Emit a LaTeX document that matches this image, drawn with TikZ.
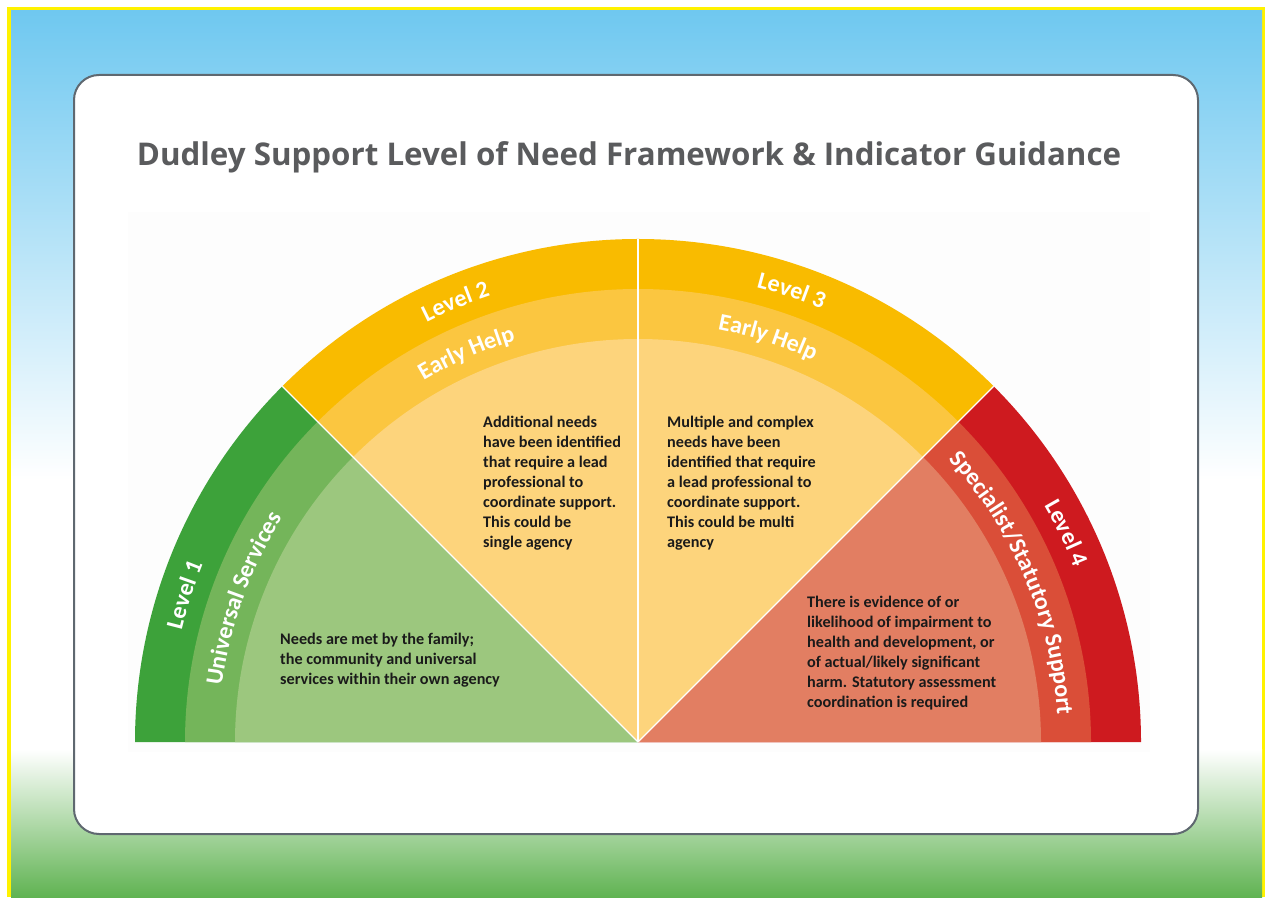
\documentclass[tikz,border=0pt]{standalone}
\usepackage{fontspec}
\setmainfont{Carlito}
\newfontfamily\titlefont{Open Sans}
\usetikzlibrary{decorations.text,calc}
\definecolor{bgblue}{HTML}{6FC8F0}
\definecolor{bggreen}{HTML}{60B352}
\definecolor{frameyellow}{HTML}{FFF200}
\definecolor{panelgray}{HTML}{5F6870}
\definecolor{titlegray}{HTML}{5A5B5D}
\definecolor{textdark}{HTML}{1A1A1A}
\definecolor{gA}{HTML}{3DA23A}
\definecolor{gB}{HTML}{74B55A}
\definecolor{gC}{HTML}{9CC77E}
\definecolor{yA}{HTML}{F9BB00}
\definecolor{yB}{HTML}{FBC640}
\definecolor{yC}{HTML}{FDD47C}
\definecolor{rA}{HTML}{CE1A1F}
\definecolor{rB}{HTML}{DA4E38}
\definecolor{rC}{HTML}{E27E62}
\newcommand\lblfont{\bfseries\fontsize{24}{28}\selectfont}
\tikzset{
  bodytext/.style={anchor=base west, inner sep=0pt, text=textdark, font=\bfseries\fontsize{16.2}{20}\selectfont},
  divider/.style={draw=white, line width=1.3pt},
  arclabel/.style={decorate, decoration={text along path, text align=center, text color=white, text={|\lblfont|#1}}},
}
\begin{document}
\begin{tikzpicture}[x=1pt,y=1pt]
\useasboundingbox (0,0) rectangle (1265,897);
\fill[white] (0,0) rectangle (1265,897);
\fill[frameyellow] (7,0) rectangle (1265,890);
\shade[top color=bgblue, bottom color=white] (11,417) rectangle (1262,886);
\fill[white] (11,147) rectangle (1262,417.5);
\shade[top color=white, bottom color=bggreen] (11,0) rectangle (1262,147.5);
\draw[draw=panelgray, line width=2pt, fill=white, rounded corners=25pt] (74,63) rectangle (1198,822);
\fill[black!0.8] (128,145) rectangle (1150,685);
\node[anchor=base, font=\titlefont\bfseries\fontsize{31.3}{38}\selectfont, text=titlegray] (title) at (629,731) {Dudley Support Level of Need Framework \& Indicator Guidance};
\coordinate (C) at (638,155);
% sectors
\foreach \a/\b/\ca/\cb/\cc in {135/180/gA/gB/gC, 45/135/yA/yB/yC, 0/45/rA/rB/rC}{
  \fill[\ca] (C) -- ($(C)+(\a:503)$) arc[start angle=\a, end angle=\b, radius=503] -- cycle;
  \fill[\cb] (C) -- ($(C)+(\a:453)$) arc[start angle=\a, end angle=\b, radius=453] -- cycle;
  \fill[\cc] (C) -- ($(C)+(\a:403)$) arc[start angle=\a, end angle=\b, radius=403] -- cycle;
}
\draw[divider] (C) -- ($(C)+(45:503)$);
\draw[divider] (C) -- ($(C)+(90:503)$);
\draw[divider] (C) -- ($(C)+(135:503)$);
% curved labels
\path[arclabel={Level 1}] ($(C)+(192:470)$) arc[start angle=192, end angle=132, radius=470];
\path[arclabel={Universal Services}] ($(C)+(195:420)$) arc[start angle=195, end angle=125, radius=420];
\path[arclabel={Level 2}] ($(C)+(142.5:470)$) arc[start angle=142.5, end angle=82.5, radius=470];
\path[arclabel={Early Help}] ($(C)+(143.8:420)$) arc[start angle=143.8, end angle=83.8, radius=420];
\path[arclabel={Level 3}] ($(C)+(101.2:470)$) arc[start angle=101.2, end angle=41.2, radius=470];
\path[arclabel={Early Help}] ($(C)+(102.2:420)$) arc[start angle=102.2, end angle=42.2, radius=420];
\path[arclabel={Level 4}] ($(C)+(56:470)$) arc[start angle=56, end angle=-4, radius=470];
\path[arclabel={Specialist/Statutory Support}] ($(C)+(58:420)$) arc[start angle=58, end angle=-12, radius=420];
% body texts
\node[bodytext] (t1) at (280,252) {\parbox[t]{260pt}{\raggedright Needs are met by the family;\\ the community and universal\\ services within their own agency}};
\node[bodytext] (t2) at (483,469) {\parbox[t]{170pt}{\raggedright Additional needs\\ have been identified\\ that require a lead\\ professional to\\ coordinate support.\\ This could be\\ single agency}};
\node[bodytext] (t3) at (667,469) {\parbox[t]{170pt}{\raggedright Multiple and complex\\ needs have been\\ identified that require\\ a lead professional to\\ coordinate support.\\ This could be multi\\ agency}};
\node[bodytext] (t4) at (807,289) {\parbox[t]{250pt}{\raggedright There is evidence of or\\ likelihood of impairment to\\ health and development, or\\ of actual/likely significant\\ harm. Statutory assessment\\ coordination is required}};
\end{tikzpicture}
\end{document}
